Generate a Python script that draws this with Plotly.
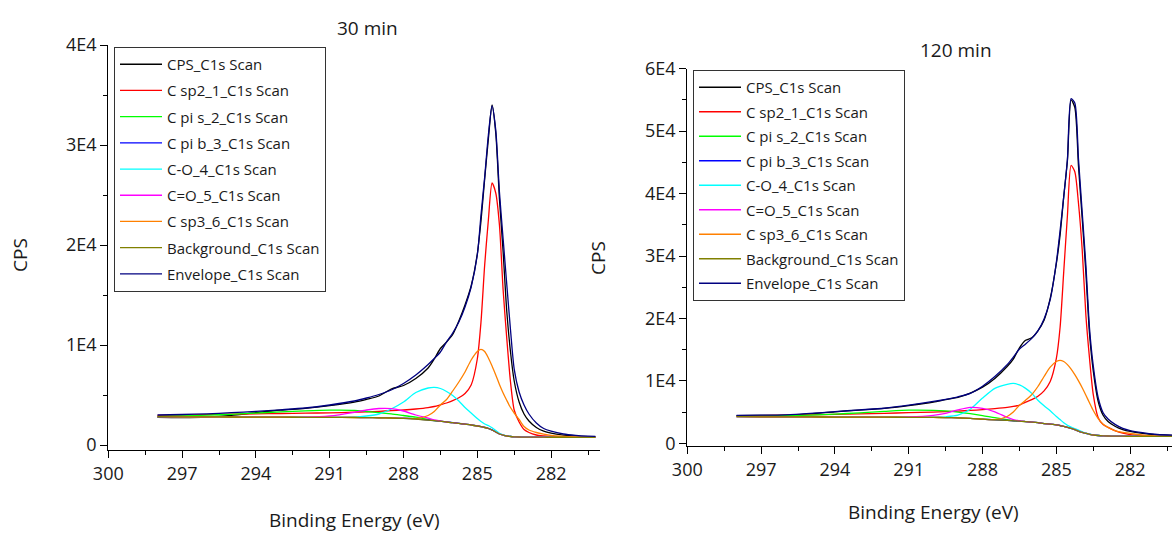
import plotly.graph_objects as go

# ---------------------------------------------------------------- data
# binding-energy grid shared by every curve (eV)
energy = [298.0, 297.0, 296.0, 295.0, 294.0, 293.0, 292.0, 291.0, 290.0, 289.5,
          289.0, 288.5, 288.0, 287.5, 287.0, 286.75, 286.5, 286.25, 286.0, 285.75,
          285.5, 285.25, 285.0, 284.85, 284.7, 284.55, 284.4, 284.25, 284.1, 283.95,
          283.8, 283.65, 283.5, 283.3, 283.1, 282.9, 282.6, 282.3, 282.0, 281.5,
          281.0, 280.5, 280.2]

# ---- 30 min
cps_30 = [2760, 2740, 2790, 2960, 3230, 3480, 3660, 3930, 4280, 4560,
          4900, 5600, 5950, 6650, 7700, 8600, 9650, 10300, 11050, 12400,
          14000, 15900, 19100, 22400, 26600, 30600, 34000, 31200, 24600, 19300,
          13300, 9300, 6400, 4300, 3100, 2400, 1750, 1380, 1180, 990,
          880, 840, 830]
sp2_30 = [2960, 3000, 3040, 3080, 3120, 3150, 3180, 3220, 3280, 3320,
          3370, 3430, 3500, 3600, 3740, 3850, 4020, 4200, 4430, 4720,
          5150, 6000, 8600, 12300, 18000, 22500, 26200, 25200, 22000, 15500,
          10600, 6300, 3500, 2300, 1550, 1250, 1000, 900, 840, 800,
          790, 780, 775]
pis_30 = [2850, 2900, 2980, 3070, 3190, 3310, 3420, 3490, 3470, 3350,
          3230, 3120, 2950, 2780, 2560, 2440, 2395, 2300, 2230, 2160,
          2080, 2000, 1900, 1830, 1750, 1650, 1500, 1300, 1100, 980,
          900, 850, 820, 800, 790, 785, 780, 780, 775, 775,
          770, 770, 770]
pib_30 = [2835, 2825, 2815, 2805, 2795, 2785, 2775, 2765, 2755, 2745,
          2725, 2705, 2675, 2605, 2485, 2435, 2395, 2305, 2235, 2165,
          2085, 2005, 1905, 1835, 1755, 1655, 1505, 1305, 1105, 985,
          905, 855, 825, 805, 795, 790, 785, 785, 780, 780,
          775, 775, 775]
co_30 = [2830, 2820, 2810, 2800, 2790, 2780, 2770, 2765, 2790, 2900,
         3100, 3600, 4300, 5250, 5700, 5770, 5650, 5350, 4950, 4400,
         3750, 3200, 2650, 2350, 2100, 1950, 1720, 1450, 1180, 1020,
         920, 860, 825, 800, 790, 785, 780, 780, 775, 775,
         770, 770, 770]
cdo_30 = [2830, 2820, 2810, 2800, 2790, 2780, 2775, 2900, 3270, 3500,
          3650, 3640, 3400, 3000, 2680, 2500, 2400, 2300, 2230, 2160,
          2080, 2000, 1900, 1830, 1750, 1650, 1500, 1300, 1100, 980,
          900, 850, 820, 800, 790, 785, 780, 780, 775, 775,
          770, 770, 770]
sp3_30 = [2830, 2820, 2810, 2800, 2790, 2780, 2770, 2760, 2750, 2740,
          2720, 2700, 2670, 2640, 2950, 3350, 4000, 4550, 5400, 6300,
          7300, 8500, 9350, 9570, 9350, 8700, 7900, 7000, 6050, 5200,
          4450, 3750, 3200, 2550, 1850, 1500, 1250, 1080, 950, 850,
          800, 780, 775]
bg_30 = [2830, 2820, 2810, 2800, 2790, 2780, 2770, 2760, 2750, 2740,
         2720, 2700, 2670, 2600, 2480, 2430, 2390, 2300, 2230, 2160,
         2080, 2000, 1900, 1830, 1750, 1650, 1500, 1300, 1100, 980,
         900, 850, 820, 800, 790, 785, 780, 780, 775, 775,
         770, 770, 770]
env_30 = [3000, 3050, 3120, 3230, 3360, 3520, 3700, 4000, 4400, 4700,
          5050, 5500, 6150, 7000, 8050, 8650, 9300, 10300, 11200, 12300,
          13800, 15800, 19000, 23000, 26800, 31000, 33900, 31500, 25300, 20600,
          16000, 11500, 7600, 5300, 4000, 3100, 2200, 1650, 1380, 1100,
          960, 880, 860]

# ---- 120 min
cps_120 = [4420, 4470, 4500, 4720, 5050, 5320, 5600, 6050, 6600, 7000,
           7350, 8050, 9000, 10400, 12300, 13500, 15300, 16500, 16900, 18000,
           19700, 23200, 28800, 33300, 39500, 45300, 55000, 53800, 44400, 36000,
           27300, 17400, 11600, 6700, 4500, 3500, 2700, 2200, 1900, 1600,
           1400, 1300, 1280]
sp2_120 = [4300, 4420, 4490, 4560, 4640, 4720, 4810, 4900, 5000, 5080,
           5170, 5260, 5380, 5550, 5750, 5900, 6130, 6600, 7000, 7550,
           8400, 9900, 13600, 18500, 27500, 36500, 44500, 43500, 38400, 31000,
           20500, 13500, 7800, 4100, 3000, 2550, 2000, 1620, 1400, 1250,
           1180, 1150, 1140]
pis_120 = [4300, 4350, 4420, 4530, 4680, 4880, 5100, 5300, 5280, 5180,
           5000, 4750, 4450, 4100, 3800, 3640, 3570, 3480, 3400, 3300,
           3150, 3080, 2950, 2850, 2700, 2550, 2400, 2200, 1950, 1750,
           1600, 1450, 1330, 1250, 1200, 1170, 1150, 1140, 1130, 1120,
           1120, 1110, 1110]
pib_120 = [4275, 4255, 4245, 4225, 4215, 4195, 4185, 4175, 4155, 4125,
           4085, 4005, 3875, 3755, 3665, 3605, 3565, 3485, 3405, 3305,
           3155, 3085, 2955, 2855, 2705, 2555, 2405, 2205, 1955, 1755,
           1605, 1455, 1335, 1255, 1205, 1175, 1155, 1145, 1135, 1125,
           1125, 1115, 1115]
co_120 = [4270, 4250, 4240, 4220, 4210, 4190, 4180, 4170, 4170, 4250,
          4500, 5450, 7250, 8800, 9450, 9600, 9350, 8800, 8000, 6900,
          6000, 5200, 4300, 3800, 3300, 2900, 2600, 2350, 2100, 1850,
          1650, 1470, 1340, 1250, 1200, 1170, 1150, 1140, 1130, 1120,
          1120, 1110, 1110]
cdo_120 = [4270, 4250, 4240, 4220, 4210, 4195, 4190, 4230, 4480, 4800,
           5350, 5760, 5600, 5050, 4150, 3800, 3600, 3480, 3400, 3300,
           3150, 3080, 2950, 2850, 2700, 2550, 2400, 2200, 1950, 1750,
           1600, 1450, 1330, 1250, 1200, 1170, 1150, 1140, 1130, 1120,
           1120, 1110, 1110]
sp3_120 = [4270, 4250, 4240, 4220, 4210, 4190, 4180, 4170, 4150, 4120,
           4080, 4000, 3870, 3800, 4300, 5000, 6100, 6900, 7800, 9100,
           10700, 12200, 13100, 13300, 13100, 12600, 11900, 11000, 10000, 8900,
           7700, 6450, 5250, 3950, 3050, 2550, 2000, 1750, 1600, 1300,
           1180, 1130, 1120]
bg_120 = [4270, 4250, 4240, 4220, 4210, 4190, 4180, 4170, 4150, 4120,
          4080, 4000, 3870, 3750, 3660, 3600, 3560, 3480, 3400, 3300,
          3150, 3080, 2950, 2850, 2700, 2550, 2400, 2200, 1950, 1750,
          1600, 1450, 1330, 1250, 1200, 1170, 1150, 1140, 1130, 1120,
          1120, 1110, 1110]
env_120 = [4480, 4500, 4560, 4780, 5080, 5350, 5620, 6100, 6700, 7050,
           7450, 8000, 9150, 10700, 12600, 13800, 15100, 15900, 16800, 18000,
           19900, 23000, 29000, 34000, 39500, 45500, 55200, 54500, 45500, 37000,
           28500, 18300, 12400, 7300, 4900, 3900, 3000, 2400, 2050, 1700,
           1450, 1330, 1300]

series_names = ["CPS_C1s Scan", "C sp2_1_C1s Scan", "C pi s_2_C1s Scan",
                "C pi b_3_C1s Scan", "C-O_4_C1s Scan", "C=O_5_C1s Scan",
                "C sp3_6_C1s Scan", "Background_C1s Scan", "Envelope_C1s Scan"]
series_colors = ["#000000", "#FF0000", "#00FF00", "#0000FF", "#00FFFF",
                 "#FF00FF", "#FF8000", "#808000", "#000080"]

panel_titles = ["30 min", "120 min"]
x_tick_vals = [300, 297, 294, 291, 288, 285, 282]
x_tick_text = ["300", "297", "294", "291", "288", "285", "282"]
x_minor_vals = [298.5, 295.5, 292.5, 289.5, 286.5, 283.5, 280.5]
y_tick_vals_30 = [0, 10000, 20000, 30000, 40000]
y_tick_text_30 = ["0", "1E4", "2E4", "3E4", "4E4"]
y_tick_vals_120 = [0, 10000, 20000, 30000, 40000, 50000, 60000]
y_tick_text_120 = ["0", "1E4", "2E4", "3E4", "4E4", "5E4", "6E4"]

# ---------------------------------------------------------------- figure
W, H = 1172, 534
FONT = "Open Sans"
TXT = "#1a1a1a"

fig = go.Figure()

panels = [
    ("x", "y", "legend", [cps_30, sp2_30, pis_30, pib_30, co_30, cdo_30, sp3_30, bg_30, env_30]),
    ("x2", "y2", "legend2", [cps_120, sp2_120, pis_120, pib_120, co_120, cdo_120, sp3_120, bg_120, env_120]),
]
for p, (xa, ya, leg, curves) in enumerate(panels):
    for i, (name, color, vals) in enumerate(zip(series_names, series_colors, curves)):
        fig.add_trace(go.Scatter(
            x=energy, y=vals, name=name, mode="lines",
            line=dict(color=color, width=1.3, shape="spline", smoothing=0.7),
            xaxis=xa, yaxis=ya, legend=leg, legendgroup=f"p{p}_{i}",
            showlegend=True,
        ))


def px_x(v):
    return v / W


def px_y(v):
    return 1 - v / H


axis_common = dict(
    showline=True, linecolor="black", linewidth=1.3,
    ticks="outside", ticklen=7, tickwidth=1.3, tickcolor="black",
    showgrid=False, zeroline=False, automargin=False,
    tickfont=dict(family=FONT, size=18, color=TXT),
)

fig.update_layout(
    width=W, height=H,
    margin=dict(l=0, r=0, t=0, b=0, autoexpand=False),
    paper_bgcolor="white", plot_bgcolor="white",
    xaxis=dict(domain=[px_x(108.3), px_x(600.3)], range=[300, 280], anchor="y",
               tickmode="array", tickvals=x_tick_vals, ticktext=x_tick_text,
               minor=dict(tickvals=x_minor_vals, ticklen=4, tickwidth=1.2,
                          tickcolor="black", ticks="outside"),
               **axis_common),
    yaxis=dict(domain=[px_y(450), px_y(45)], range=[-500, 40000], anchor="x",
               tickmode="array", tickvals=y_tick_vals_30, ticktext=y_tick_text_30,
               minor=dict(dtick=5000, ticklen=4, tickwidth=1.2,
                          tickcolor="black", ticks="outside"),
               **axis_common),
    xaxis2=dict(domain=[px_x(687.3), 1.0], range=[300, 280.3], anchor="y2",
                tickmode="array", tickvals=x_tick_vals, ticktext=x_tick_text,
                minor=dict(tickvals=x_minor_vals, ticklen=4, tickwidth=1.2,
                           tickcolor="black", ticks="outside"),
                **axis_common),
    yaxis2=dict(domain=[px_y(446), px_y(68.7)], range=[-430, 60000], anchor="x2",
                tickmode="array", tickvals=y_tick_vals_120, ticktext=y_tick_text_120,
                minor=dict(dtick=5000, ticklen=4, tickwidth=1.2,
                           tickcolor="black", ticks="outside"),
                **axis_common),
    legend=dict(x=px_x(114), y=px_y(47), xanchor="left", yanchor="top",
                bgcolor="white", bordercolor="#333", borderwidth=1,
                font=dict(family=FONT, size=15, color=TXT), itemwidth=42,
                tracegroupgap=3.7, traceorder="grouped"),
    legend2=dict(x=px_x(693), y=px_y(70), xanchor="left", yanchor="top",
                 bgcolor="white", bordercolor="#333", borderwidth=1,
                 font=dict(family=FONT, size=15, color=TXT), itemwidth=42,
                 tracegroupgap=2, traceorder="grouped"),
    showlegend=True,
)

ann_font = dict(family=FONT, size=19, color=TXT)
annotations = [
    dict(text=panel_titles[0], x=px_x(367), y=px_y(28)),
    dict(text=panel_titles[1], x=px_x(956), y=px_y(50)),
    dict(text="Binding Energy (eV)", x=px_x(354), y=px_y(520)),
    dict(text="Binding Energy (eV)", x=px_x(933), y=px_y(512)),
    dict(text="CPS", x=px_x(20), y=px_y(255), textangle=-90),
    dict(text="CPS", x=px_x(598), y=px_y(258), textangle=-90),
]
for a in annotations:
    fig.add_annotation(xref="paper", yref="paper", showarrow=False,
                       xanchor="center", yanchor="middle", font=ann_font, **a)

fig.write_html("out.html")
